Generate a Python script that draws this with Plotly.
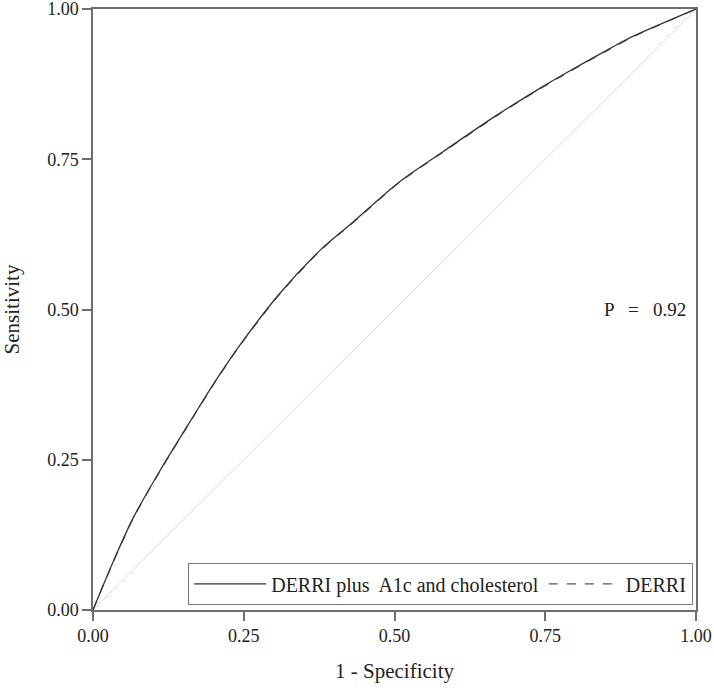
import plotly.graph_objects as go

# ROC curves
fpr_full = [0, 0.032, 0.066, 0.110, 0.165, 0.201, 0.243, 0.310, 0.376, 0.409,
            0.426, 0.509, 0.581, 0.669, 0.741, 0.780, 0.857, 0.890, 1.0]
tpr_full = [0, 0.077, 0.152, 0.230, 0.320, 0.378, 0.440, 0.527, 0.598, 0.627,
            0.641, 0.713, 0.763, 0.823, 0.868, 0.891, 0.934, 0.952, 1.0]
fpr_base = [0, 0.032, 0.066, 0.110, 0.165, 0.201, 0.243, 0.310, 0.376, 0.409,
            0.426, 0.509, 0.581, 0.669, 0.741, 0.780, 0.857, 0.890, 1.0]
tpr_base = [0, 0.076, 0.151, 0.229, 0.319, 0.377, 0.439, 0.526, 0.597, 0.626,
            0.640, 0.712, 0.762, 0.822, 0.867, 0.890, 0.933, 0.951, 1.0]
ref_line = [0, 1]
ticks = [0, 0.25, 0.5, 0.75, 1.0]
tick_labels = ["0.00", "0.25", "0.50", "0.75", "1.00"]
p_text = "P   =   0.92"

FONT = "Liberation Serif, Times New Roman, serif"
AX = "#6e6e6e"

fig = go.Figure()
fig.add_trace(go.Scatter(x=ref_line, y=ref_line, mode="lines", showlegend=False,
                         line=dict(color="#d9d9d9", width=1), hoverinfo="skip"))
fig.add_trace(go.Scatter(x=fpr_base, y=tpr_base, mode="lines", name="DERRI",
                         line=dict(color="#555555", width=1.2, dash="dash",
                                   shape="spline", smoothing=0.8)))
fig.add_trace(go.Scatter(x=fpr_full, y=tpr_full, mode="lines",
                         name="DERRI plus  A1c and cholesterol",
                         line=dict(color="#333333", width=1.3,
                                   shape="spline", smoothing=0.8)))

axis = dict(range=[0, 1], tickmode="array", tickvals=ticks, ticktext=tick_labels,
            showgrid=False, zeroline=False, showline=True, mirror=True,
            linecolor=AX, linewidth=1.5, ticks="outside", ticklen=9, tickwidth=1.5,
            tickcolor=AX, tickfont=dict(size=18, color="#222"), automargin=False,
            ticklabeloverflow="allow")

fig.update_layout(
    width=714, height=690,
    margin=dict(l=93, r=18, t=9, b=80),
    plot_bgcolor="white", paper_bgcolor="white",
    font=dict(family=FONT, color="#222"),
    xaxis=dict(axis, title=dict(text="1 - Specificity", font=dict(size=21), standoff=18)),
    yaxis=dict(axis, title=dict(text="Sensitivity", font=dict(size=21), standoff=24)),
    legend=dict(orientation="h", x=0.995, xanchor="right", y=0.008, yanchor="bottom",
                bordercolor="#777", borderwidth=1.2, bgcolor="white",
                font=dict(size=20), traceorder="reversed", itemwidth=72,
                tracegroupgap=0),
    annotations=[dict(x=0.987, y=0.5, xref="x", yref="y", text=p_text, showarrow=False,
                      xanchor="right", font=dict(size=19, color="#222"))],
)

# drop the browser's default 8px body margin so the figure sits at the window corner
fig.write_html("out.html", config={"displayModeBar": False},
               post_script="document.body.style.margin='0';document.body.style.overflow='hidden';")
